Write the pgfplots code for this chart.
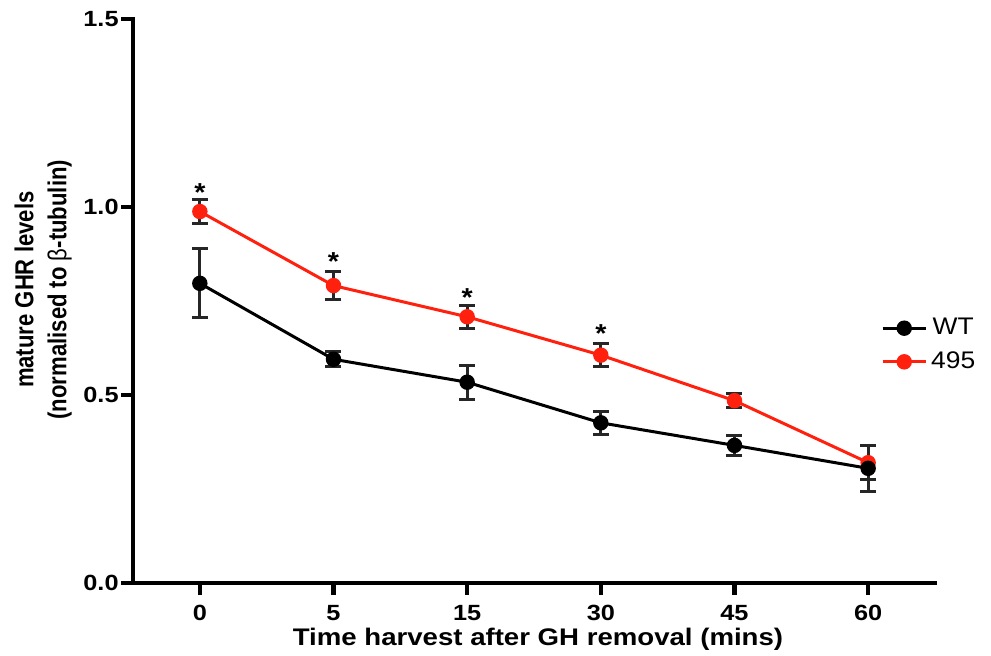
\documentclass[border=0pt]{standalone}
\usepackage{fontspec}
\setmainfont{Liberation Sans}
\newfontfamily\tickfont[FakeStretch=1.15]{Liberation Sans}
\newfontfamily\labfont[FakeStretch=1.15]{Liberation Sans}
\newfontfamily\yfont[FakeStretch=0.85]{Liberation Sans}
\newfontfamily\legfont[FakeStretch=1.1]{Liberation Sans}
\usepackage{pgfplots}
\usepackage{pgfplotstable}
\pgfplotsset{compat=1.18}
\definecolor{kored}{HTML}{FF200E}

% time point index, mean, error
\pgfplotstableread{
x y e
0 0.797 0.092
1 0.595 0.020
2 0.534 0.045
3 0.426 0.031
4 0.366 0.026
5 0.305 0.062
}\wt
\pgfplotstableread{
x y e
0 0.988 0.033
1 0.791 0.037
2 0.708 0.030
3 0.606 0.031
4 0.485 0.018
5 0.320 0.045
}\mut

\begin{document}
\begin{tikzpicture}
\path[use as bounding box] (0,0) rectangle (495.5pt,327.5pt);
\begin{axis}[
  at={(66.5pt,36pt)}, anchor=south west,
  scale only axis, width=401pt, height=282pt,
  xmin=-0.5, xmax=5.5, ymin=0, ymax=1.5,
  axis x line*=bottom, axis y line*=left,
  axis line style={line width=2.3pt, line cap=rect},
  xtick={0,1,2,3,4,5}, xticklabels={0,5,15,30,45,60},
  ytick={0,0.5,1,1.5}, yticklabels={0.0,0.5,1.0,1.5},
  tick align=outside, major tick length=6pt,
  tick style={line width=2.3pt, black},
  ticklabel style={font=\tickfont\bfseries\fontsize{11}{12}\selectfont},
  yticklabel style={inner sep=1pt},
  xticklabel style={yshift=-1.5pt},
  xlabel={Time harvest after GH removal (mins)},
  xlabel style={font=\labfont\bfseries\fontsize{12}{14}\selectfont,
    at={(rel axis cs:0.505,-0.1)}, anchor=center},
  ylabel={mature GHR levels\\(normalised to {\mdseries β}-tubulin)},
  ylabel style={align=center, font=\yfont\bfseries\fontsize{13}{16.5}\selectfont,
    at={(rel axis cs:-0.112,0.52)}, anchor=center},
  clip=false,
  reverse legend,
  legend style={draw=none, fill=none, at={(0.925,0.484)}, anchor=north west,
    font=\legfont\fontsize{12}{14}\selectfont, row sep=3pt},
  legend image code/.code={
    \draw[mark repeat=2, mark phase=2] plot coordinates {(0pt,0pt) (10.75pt,0pt) (21.5pt,0pt)};},
  error bars/error bar style={line width=1.5pt, black!85},
  error bars/error mark options={rotate=90, mark size=4pt, line width=1.5pt, black!85},
]
\addplot[kored, line width=1.5pt, mark=*, mark size=3.1pt,
  mark options={fill=kored, draw=kored},
  error bars/.cd, y dir=both, y explicit]
  table[x=x, y=y, y error=e] {\mut};
\addlegendentry{495}
\addplot[black, line width=1.5pt, mark=*, mark size=3.1pt,
  mark options={fill=black},
  error bars/.cd, y dir=both, y explicit]
  table[x=x, y=y, y error=e] {\wt};
\addlegendentry{WT}
% significance stars
\addplot[draw=none, forget plot, nodes near coords={\bfseries *},
  nodes near coords style={anchor=center, black,
    font=\legfont\fontsize{13}{14}\selectfont}]
  coordinates {(0,1.038) (1,0.854) (2,0.758) (3,0.664)};
\end{axis}
\end{tikzpicture}
\end{document}
